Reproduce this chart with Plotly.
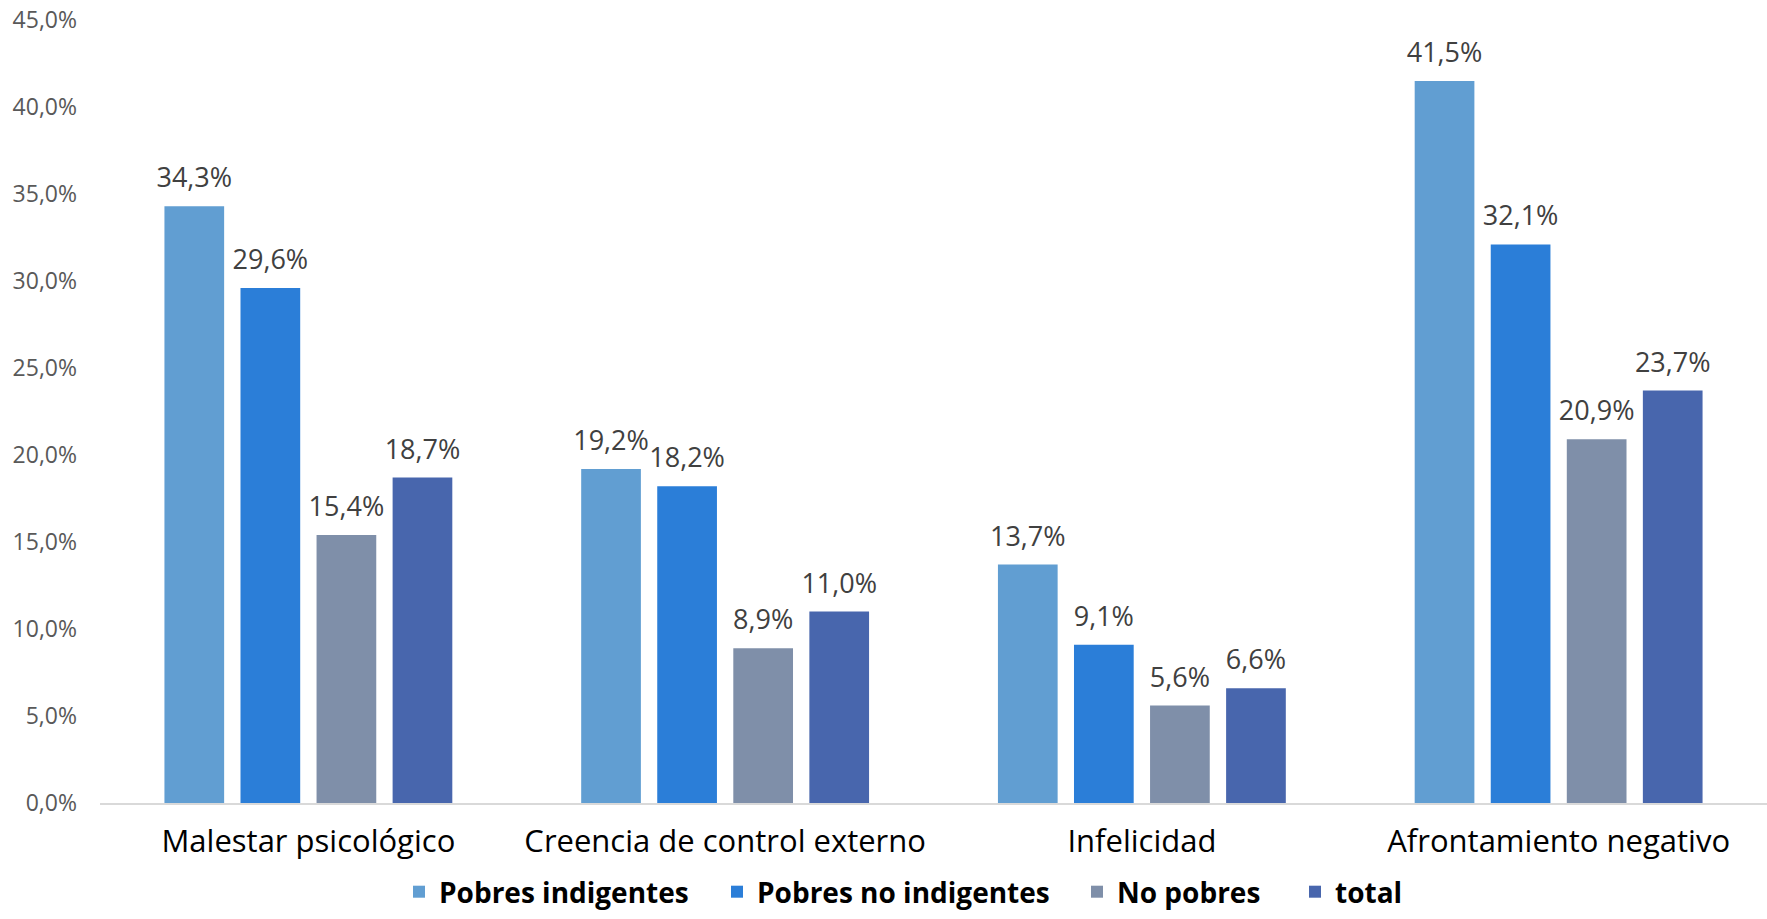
import plotly.graph_objects as go

categories = ["Malestar psicológico", "Creencia de control externo", "Infelicidad", "Afrontamiento negativo"]
series_names = ["Pobres indigentes", "Pobres no indigentes", "No pobres", "total"]
pobres_indigentes = [34.3, 19.2, 13.7, 41.5]
pobres_no_indigentes = [29.6, 18.2, 9.1, 32.1]
no_pobres = [15.4, 8.9, 5.6, 20.9]
total = [18.7, 11.0, 6.6, 23.7]
tick_values = [0, 5, 10, 15, 20, 25, 30, 35, 40, 45]
tick_labels = [f"{v:.1f}%".replace(".", ",") for v in tick_values]

colors = ["#619ED2", "#2B7ED8", "#7F8FA9", "#4866AD"]
series = [pobres_indigentes, pobres_no_indigentes, no_pobres, total]
legend_ids = ["legend", "legend2", "legend3", "legend4"]
legend_x_px = [416, 734, 1094, 1312]

FONT = "Open Sans"
W, H = 1767, 919
L, R, T, B = 100, 0, 20, 116
PW = W - L - R
PH = H - T - B

fig = go.Figure()
for i, (name, vals, col) in enumerate(zip(series_names, series, colors)):
    fig.add_trace(go.Bar(
        x=categories, y=vals, name=name,
        marker=dict(color=col, line=dict(width=0)),
        offsetgroup=str(i), legend=legend_ids[i],
    ))
for i, (name, vals) in enumerate(zip(series_names, series)):
    fig.add_trace(go.Scatter(
        x=categories, y=vals, name=name, mode="markers+text",
        marker=dict(size=18, opacity=0),
        text=[f"{v:.1f}%".replace(".", ",") for v in vals],
        textposition="top center",
        textfont=dict(family=FONT, size=27, color="#404040"),
        offsetgroup=str(i), showlegend=False, cliponaxis=False, hoverinfo="skip",
    ))

legend_font = dict(family=FONT, size=28, color="#000000", weight="bold")
legend_y = -(B - 2) / PH
layout_legends = {}
for lid, px in zip(legend_ids, legend_x_px):
    layout_legends[lid] = dict(
        orientation="h", x=(px - 17 - L) / PW, xanchor="left",
        y=legend_y, yanchor="bottom", font=legend_font,
        itemwidth=30, bgcolor="rgba(0,0,0,0)",
    )

fig.update_layout(
    width=W, height=H,
    paper_bgcolor="white", plot_bgcolor="white",
    margin=dict(l=L, r=R, t=T, b=B, autoexpand=False),
    barmode="group", bargap=0.27, bargroupgap=0.215,
    scattermode="group", scattergap=0.27,
    separators=",.",
    showlegend=True,
    xaxis=dict(range=[-0.5, 3.5], showline=True, linecolor="#D9D9D9", linewidth=2, ticks="",
               tickfont=dict(family=FONT, size=31, color="#000000"),
               automargin=False, ticklabelstandoff=10),
    yaxis=dict(range=[0, 45], tickvals=tick_values, ticktext=tick_labels,
               showgrid=False, zeroline=False, showline=False,
               tickfont=dict(family=FONT, size=23, color="#595959"),
               automargin=False, ticklabelstandoff=22, ticklabeloverflow="allow"),
    **layout_legends,
)

fig.write_html("out.html", config={"displayModeBar": False},
               post_script="document.body.style.margin='0';document.body.style.overflow='hidden';")
